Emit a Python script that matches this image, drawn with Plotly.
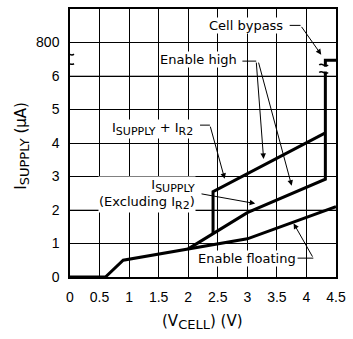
import plotly.graph_objects as go

# ---- data ----
float_x = [0, 0.6, 0.9, 2.0, 3.0, 4.5]
float_y = [0, 0, 0.5, 0.84, 1.14, 2.1]

supply_x = [2.0, 3.0, 4.32, 4.32, 4.5]
supply_y = [0.84, 1.92, 2.92, 6.47, 6.47]

supply_r2_x = [2.42, 2.42, 4.32]
supply_r2_y = [1.29, 2.55, 4.3]

x_ticks = [0, 0.5, 1, 1.5, 2, 2.5, 3, 3.5, 4, 4.5]
x_ticktext = ["0", "0.5", "1", "1.5", "2", "2.5", "3", "3.5", "4", "4.5"]
y_ticks = [0, 1, 2, 3, 4, 5, 6, 7]
y_ticktext = ["0", "1", "2", "3", "4", "5", "6", "800"]

W, H = 353, 339
L, R, T, B = 70, 13, 7, 62
XMAX, YMAX = 4.5, 8.0
PW, PH = W - L - R, H - T - B


def X(px):
    return (px - L) / PW * XMAX


def Y(py):
    return (H - B - py) / PH * YMAX


def sub(s, size=11):
    return f"<sub><span style='font-size:{size}px'>{s}</span></sub>"


fig = go.Figure()
for xs, ys in [(float_x, float_y), (supply_x, supply_y), (supply_r2_x, supply_r2_y)]:
    fig.add_trace(go.Scatter(x=xs, y=ys, mode="lines",
                             line=dict(color="black", width=3),
                             showlegend=False, hoverinfo="skip"))

FONT = "DejaVu Sans"
shapes = []
for gy in [2, 6]:
    shapes.append(dict(type="line", xref="x", yref="y", x0=0, x1=4.5, y0=gy, y1=gy,
                       line=dict(color="#9a9a9a", width=1.5), layer="below"))


def seg(p0, p1):
    shapes.append(dict(type="line", xref="x", yref="y",
                       x0=X(p0[0]), y0=Y(p0[1]), x1=X(p1[0]), y1=Y(p1[1]),
                       line=dict(color="black", width=1), layer="above"))


seg((293, 23.5), (304, 23.5))      # cell bypass
seg((245, 59.5), (259, 59.5))      # enable high
seg((202, 124), (212, 124))        # Isupply + IR2
seg((301, 258), (317, 258))        # enable floating

shapes.append(dict(type="rect", xref="x", yref="y", x0=X(66), x1=X(75), y0=Y(61), y1=Y(53),
                   fillcolor="white", line=dict(width=0), layer="above"))
shapes.append(dict(type="rect", xref="x", yref="y", x0=X(325), x1=X(335), y0=Y(70), y1=Y(65),
                   fillcolor="white", line=dict(width=0), layer="above"))


def squiggle(cx, cy, w=10, h=3):
    x0, x1 = cx - w / 2, cx + w / 2
    p = (f"M {X(x0)},{Y(cy)} C {X(x0 + w/3)},{Y(cy - h)} {X(x0 + 2*w/3)},{Y(cy + h)} "
         f"{X(x1)},{Y(cy)}")
    shapes.append(dict(type="path", xref="x", yref="y", path=p,
                       line=dict(color="black", width=1.5), layer="above"))


squiggle(69, 52.5)
squiggle(69, 62)
squiggle(327.5, 63.5, w=9)
squiggle(327.5, 71, w=9)

annotations = []


def label(text, px, py, xanchor="center", align="center"):
    annotations.append(dict(text=text, x=X(px), y=Y(py), xref="x", yref="y",
                            showarrow=False, xanchor=xanchor, yanchor="middle", align=align,
                            font=dict(family=FONT, size=13, color="black"),
                            bgcolor="white", borderpad=0))


def arrow(tail, tip):
    annotations.append(dict(text="", x=X(tip[0]), y=Y(tip[1]), ax=X(tail[0]), ay=Y(tail[1]),
                            xref="x", yref="y", axref="x", ayref="y", showarrow=True,
                            arrowhead=2, arrowsize=1.1, arrowwidth=1, arrowcolor="black",
                            standoff=0))


label("Cell bypass", 249, 24)
label("Enable high", 200, 58)
label("I" + sub("SUPPLY") + " + I" + sub("R2"), 154, 128)
label("I" + sub("SUPPLY") + "<br>(Excluding I" + sub("R2") + ")", 198, 194,
      xanchor="right", align="right")
label("Enable floating", 250, 258)

arrow((304, 23.5), (325, 53))
arrow((259, 59.5), (266.5, 158))
arrow((261, 59.5), (295, 185))
arrow((212, 124), (227, 178))
arrow((202, 193), (258, 203))
arrow((317, 258), (297, 223))

annotations.append(dict(text="(V" + sub("CELL", 13) + ") (V)", x=(204 - L) / PW,
                        y=(H - B - 322) / PH,
                        xref="paper", yref="paper", showarrow=False, xanchor="center",
                        yanchor="middle", font=dict(family=FONT, size=15, color="black")))
annotations.append(dict(text="I" + sub("SUPPLY", 13) + " (\u03bcA)", x=(21 - L) / PW,
                        y=(H - B - 145) / PH,
                        xref="paper", yref="paper", showarrow=False, textangle=-90,
                        xanchor="center", yanchor="middle",
                        font=dict(family=FONT, size=15, color="black")))

axis_common = dict(showgrid=True, gridcolor="black", gridwidth=1, showline=True, mirror=True,
                   linecolor="black", linewidth=1.5, zeroline=False, ticks="outside",
                   ticklen=6, tickcolor="rgba(0,0,0,0)",
                   tickfont=dict(family="Liberation Sans", size=14, color="black"))

fig.update_layout(
    width=W, height=H, autosize=False,
    margin=dict(l=L, r=R, t=T, b=B),
    paper_bgcolor="white", plot_bgcolor="white",
    xaxis=dict(range=[0, XMAX], tickvals=x_ticks, ticktext=x_ticktext, **axis_common),
    yaxis=dict(range=[0, YMAX], tickvals=y_ticks, ticktext=y_ticktext, **axis_common),
    shapes=shapes, annotations=annotations,
)

fig.write_html("out.html", config={"displayModeBar": False},
               post_script="document.body.style.margin='0';")
